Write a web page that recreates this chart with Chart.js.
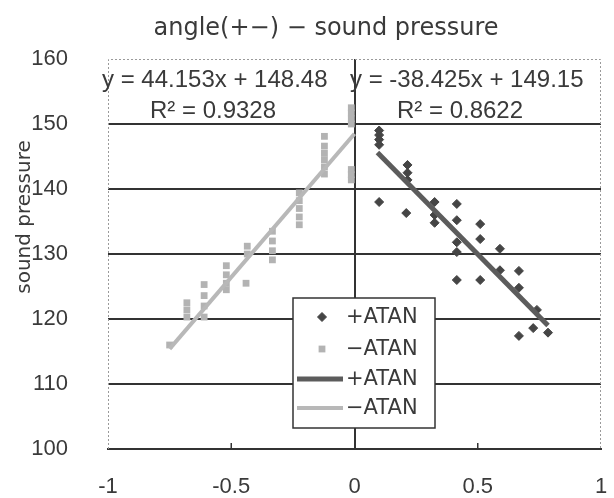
<!DOCTYPE html>
<html>
<head>
<meta charset="utf-8">
<script src="https://cdn.jsdelivr.net/npm/chart.js@4.4.1/dist/chart.umd.min.js"></script>
<style>
  html, body { margin: 0; padding: 0; background: #fff; }
  canvas { display: block; }
</style>
</head>
<body>
<canvas id="chart" width="614" height="498"></canvas>
<script>
// values
const plusX = [0.10, 0.10, 0.10, 0.10, 0.10, 0.215, 0.215, 0.215, 0.21, 0.325, 0.325, 0.325,
  0.415, 0.415, 0.415, 0.415, 0.415, 0.51, 0.51, 0.51, 0.59, 0.59, 0.667, 0.667, 0.667,
  0.725, 0.74, 0.785];
const plusY = [149.0, 148.3, 147.6, 146.8, 138.0, 143.7, 142.5, 141.4, 136.3, 138.0, 136.0, 134.8,
  137.7, 135.2, 131.8, 130.3, 126.0, 134.6, 132.3, 126.0, 130.8, 127.5, 127.4, 124.8, 117.4,
  118.6, 121.4, 117.9];

const minusX = [-0.013, -0.013, -0.013, -0.013, -0.013, -0.013, -0.013,
  -0.122, -0.122, -0.122, -0.122, -0.122, -0.122,
  -0.224, -0.224, -0.224, -0.224, -0.224,
  -0.333, -0.333, -0.333, -0.333,
  -0.435, -0.435, -0.44,
  -0.52, -0.52, -0.52, -0.52,
  -0.61, -0.61, -0.61, -0.61,
  -0.68, -0.68, -0.68, -0.75];
const minusY = [152.5, 151.7, 150.8, 150.0, 143.0, 142.2, 141.4,
  148.1, 146.6, 145.5, 144.5, 143.4, 142.3,
  139.4, 138.2, 137.0, 135.7, 134.5,
  133.5, 132.0, 130.5, 129.1,
  131.2, 130.0, 125.5,
  128.2, 126.8, 125.5, 124.5,
  125.3, 123.6, 122.0, 120.3,
  122.5, 121.4, 120.3, 116.0];

// trendline ends (Excel linear fits)
const plusTrendX = [0.093, 0.785];
const plusTrendY = [145.6, 119.0];
const minusTrendX = [-0.75, 0];
const minusTrendY = [115.4, 148.5];

const xTicks = [-1, -0.5, 0, 0.5, 1];
const yTicks = [100, 110, 120, 130, 140, 150, 160];

const titleText = "angle(+\u2212) \u2212 sound pressure";
const yTitleText = "sound pressure";
const plusEq = ["y = -38.425x + 149.15", "R\u00b2 = 0.8622"];
const minusEq = ["y = 44.153x + 148.48", "R\u00b2 = 0.9328"];

const toPoints = (xs, ys) => xs.map((x, i) => ({ x: x, y: ys[i] }));

const DARK = "#454545";
const LIGHT = "#b3b3b3";
const GRID = "#333";
const TEXT = "#3a3a3a";

const tickFont = { family: "'Liberation Sans', Arial, sans-serif", size: 22 };

const decor = {
  id: "decor",
  beforeDatasetsDraw(chart) {
    const { ctx, chartArea: a, scales } = chart;
    ctx.save();
    // dotted plot frame (top, left, right)
    ctx.strokeStyle = "#9a9a9a";
    ctx.lineWidth = 1;
    ctx.setLineDash([2, 2]);
    ctx.beginPath();
    ctx.moveTo(a.left + 0.5, a.bottom);
    ctx.lineTo(a.left + 0.5, a.top + 0.5);
    ctx.lineTo(a.right - 0.5, a.top + 0.5);
    ctx.lineTo(a.right - 0.5, a.bottom);
    ctx.stroke();
    ctx.setLineDash([]);
    // small inward ticks on the x axis
    ctx.strokeStyle = GRID;
    ctx.lineWidth = 1.5;
    [-0.5, 0.5].forEach(v => {
      const px = scales.x.getPixelForValue(v);
      ctx.beginPath();
      ctx.moveTo(px, a.bottom);
      ctx.lineTo(px, a.bottom - 6);
      ctx.stroke();
    });
    ctx.restore();
  },
  afterDraw(chart) {
    const { ctx } = chart;
    ctx.save();
    ctx.fillStyle = TEXT;
    // title
    ctx.font = "24px 'DejaVu Sans', sans-serif";
    ctx.textAlign = "center";
    ctx.textBaseline = "middle";
    ctx.fillText(titleText, 326, 29);
    // y axis title
    ctx.save();
    ctx.translate(25, 217);
    ctx.rotate(-Math.PI / 2);
    ctx.font = "20px 'DejaVu Sans', sans-serif";
    ctx.fillText(yTitleText, 0, 0);
    ctx.restore();
    // trendline labels
    ctx.font = "24px 'Liberation Sans', Arial, sans-serif";
    ctx.textAlign = "left";
    ctx.fillText(minusEq[0], 102, 80);
    ctx.fillText(plusEq[0], 350, 80);
    ctx.textAlign = "center";
    ctx.fillText(minusEq[1], 213, 111);
    ctx.fillText(plusEq[1], 460, 111);

    // legend
    const bx = 293, by = 298, bw = 142, bh = 130;
    ctx.fillStyle = "#fff";
    ctx.fillRect(bx, by, bw, bh);
    ctx.strokeStyle = GRID;
    ctx.lineWidth = 1.5;
    ctx.strokeRect(bx, by, bw, bh);
    const rows = [317, 349, 379, 408];
    const sets = chart.data.datasets;
    ctx.font = "21px 'DejaVu Sans', sans-serif";
    ctx.textAlign = "left";
    sets.forEach((ds, i) => {
      const y = rows[i];
      if (ds.showLine) {
        ctx.strokeStyle = ds.borderColor;
        ctx.lineWidth = ds.borderWidth;
        ctx.beginPath();
        ctx.moveTo(297, y);
        ctx.lineTo(343, y);
        ctx.stroke();
      } else {
        ctx.fillStyle = ds.backgroundColor;
        ctx.strokeStyle = ds.borderColor;
        ctx.lineWidth = ds.borderWidth;
        Chart.helpers.drawPoint(ctx, {
          pointStyle: ds.pointStyle, radius: ds.pointRadius,
          borderWidth: ds.borderWidth, rotation: 0
        }, 322, y);
      }
      ctx.fillStyle = TEXT;
      ctx.fillText(ds.label, 346, y + 1);
    });
    ctx.restore();
  }
};

new Chart(document.getElementById("chart"), {
  type: "scatter",
  data: {
    datasets: [
      {
        label: "+ATAN",
        data: toPoints(plusX, plusY),
        pointStyle: "rectRot",
        pointRadius: 4.5,
        backgroundColor: DARK,
        borderColor: DARK,
        borderWidth: 1,
        order: 2
      },
      {
        label: "\u2212ATAN",
        data: toPoints(minusX, minusY),
        pointStyle: "rect",
        pointRadius: 4.8,
        backgroundColor: LIGHT,
        borderColor: LIGHT,
        borderWidth: 0,
        order: 3
      },
      {
        label: "+ATAN",
        data: toPoints(plusTrendX, plusTrendY),
        showLine: true,
        pointRadius: 0,
        borderColor: "#5c5c5c",
        borderWidth: 5,
        order: 0
      },
      {
        label: "\u2212ATAN",
        data: toPoints(minusTrendX, minusTrendY),
        showLine: true,
        pointRadius: 0,
        borderColor: "#b8b8b8",
        borderWidth: 4,
        order: 1
      }
    ]
  },
  options: {
    responsive: false,
    animation: false,
    layout: { padding: { top: 59, right: 13, left: 0, bottom: 0 } },
    plugins: {
      legend: { display: false },
      title: { display: false },
      tooltip: { enabled: false }
    },
    scales: {
      x: {
        type: "linear",
        min: xTicks[0],
        max: xTicks[xTicks.length - 1],
        afterBuildTicks: s => { s.ticks = xTicks.map(v => ({ value: v })); },
        afterFit: s => { s.height = 49; s.paddingLeft = 0; s.paddingRight = 0; },
        ticks: { color: TEXT, font: tickFont, padding: 25, callback: v => String(v) },
        grid: {
          color: c => (c.tick && c.tick.value === 0 ? GRID : "rgba(0,0,0,0)"),
          lineWidth: 2,
          drawTicks: false
        },
        border: { color: GRID, width: 2 }
      },
      y: {
        type: "linear",
        min: yTicks[0],
        max: yTicks[yTicks.length - 1],
        afterBuildTicks: s => { s.ticks = yTicks.map(v => ({ value: v })); },
        afterFit: s => { s.width = 108; s.paddingTop = 0; s.paddingBottom = 0; },
        ticks: { color: TEXT, font: tickFont, padding: 40, callback: v => String(v) },
        grid: {
          color: c => (c.tick && c.tick.value > 100 && c.tick.value < 160 ? GRID : "rgba(0,0,0,0)"),
          lineWidth: 2,
          drawTicks: false
        },
        border: { display: false }
      }
    }
  },
  plugins: [decor]
});
</script>
</body>
</html>
